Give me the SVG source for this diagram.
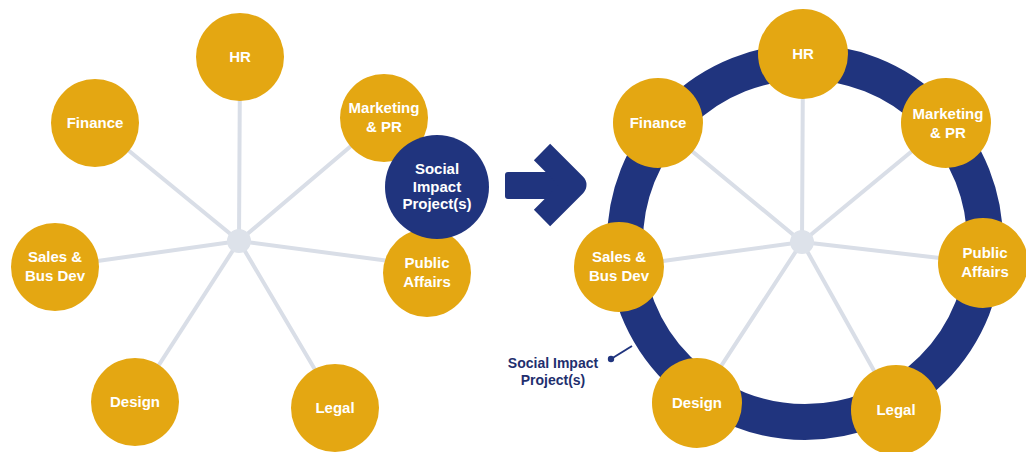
<svg xmlns="http://www.w3.org/2000/svg" width="1026" height="452" viewBox="0 0 1026 452">
  <style>
    .spoke { stroke: #d9dee7; stroke-width: 4; stroke-linecap: round; fill: none; }
    .hub { fill: #dde2ea; }
    .dept { fill: #e4a712; }
    .sip { fill: #20347e; }
    .lbl { font-family: "Liberation Sans", Arial, sans-serif; font-weight: bold; font-size: 15px; fill: #ffffff; text-anchor: middle; }
    .note { font-family: "Liberation Sans", Arial, sans-serif; font-weight: bold; font-size: 14px; fill: #1f2f6e; text-anchor: middle; }
  </style>
  <rect width="1026" height="452" fill="#ffffff"/>

  <!-- Left: departments radiating from a shared hub -->
  <g id="left-connectors">
    <line class="spoke" x1="239" y1="241" x2="240" y2="57"/>
    <line class="spoke" x1="239" y1="241" x2="95" y2="123"/>
    <line class="spoke" x1="239" y1="241" x2="384" y2="118"/>
    <line class="spoke" x1="239" y1="241" x2="427" y2="266"/>
    <line class="spoke" x1="239" y1="241" x2="55" y2="267"/>
    <line class="spoke" x1="239" y1="241" x2="135" y2="402"/>
    <line class="spoke" x1="239" y1="241" x2="330" y2="395"/>
    <circle class="hub" cx="239" cy="241" r="12"/>
  </g>

  <g id="l-hr">
    <circle class="dept" cx="240" cy="57" r="44"/>
    <text class="lbl" x="240" y="62">HR</text>
  </g>
  <g id="l-finance">
    <circle class="dept" cx="95" cy="123" r="44"/>
    <text class="lbl" x="95" y="128">Finance</text>
  </g>
  <g id="l-marketing">
    <circle class="dept" cx="384" cy="118" r="44"/>
    <text class="lbl" x="384" y="113">Marketing</text>
    <text class="lbl" x="384" y="132">&amp; PR</text>
  </g>
  <g id="l-public-affairs">
    <circle class="dept" cx="427" cy="273" r="44"/>
    <text class="lbl" x="427" y="268">Public</text>
    <text class="lbl" x="427" y="287">Affairs</text>
  </g>
  <g id="l-social-impact">
    <circle class="sip" cx="437" cy="187" r="52"/>
    <text class="lbl" x="437" y="174">Social</text>
    <text class="lbl" x="437" y="191.5">Impact</text>
    <text class="lbl" x="437" y="209">Project(s)</text>
  </g>
  <g id="l-sales">
    <circle class="dept" cx="55" cy="267" r="44"/>
    <text class="lbl" x="55" y="262">Sales &amp;</text>
    <text class="lbl" x="55" y="281">Bus Dev</text>
  </g>
  <g id="l-design">
    <circle class="dept" cx="135" cy="402" r="44"/>
    <text class="lbl" x="135" y="407">Design</text>
  </g>
  <g id="l-legal">
    <circle class="dept" cx="335" cy="408" r="44"/>
    <text class="lbl" x="335" y="413">Legal</text>
  </g>

  <!-- Transition arrow -->
  <g id="arrow">
    <rect x="505" y="172" width="64" height="27" rx="3" fill="#20347e"/>
    <polyline points="542,152 575,185 542,218" fill="none" stroke="#20347e" stroke-width="23" stroke-linejoin="round" stroke-linecap="butt"/>
  </g>

  <!-- Right: departments joined by the project ring -->
  <g id="right-connectors">
    <line class="spoke" x1="802" y1="242" x2="803" y2="54"/>
    <line class="spoke" x1="802" y1="242" x2="658" y2="123"/>
    <line class="spoke" x1="802" y1="242" x2="946" y2="123"/>
    <line class="spoke" x1="802" y1="242" x2="983" y2="263"/>
    <line class="spoke" x1="802" y1="242" x2="619" y2="267"/>
    <line class="spoke" x1="802" y1="242" x2="697" y2="403"/>
    <line class="spoke" x1="802" y1="242" x2="896" y2="410"/>
    <circle class="hub" cx="802" cy="242" r="12"/>
  </g>

  <g id="ring">
    <circle cx="805" cy="242" r="180" fill="none" stroke="#20347e" stroke-width="36"/>
  </g>

  <g id="ring-label">
    <line x1="611" y1="359" x2="632" y2="346" stroke="#20347e" stroke-width="2"/>
    <circle cx="611" cy="359" r="3.2" fill="#20347e"/>
    <text class="note" x="553" y="368">Social Impact</text>
    <text class="note" x="553" y="385">Project(s)</text>
  </g>

  <g id="r-hr">
    <circle class="dept" cx="803" cy="54" r="45"/>
    <text class="lbl" x="803" y="59">HR</text>
  </g>
  <g id="r-finance">
    <circle class="dept" cx="658" cy="123" r="45"/>
    <text class="lbl" x="658" y="128">Finance</text>
  </g>
  <g id="r-marketing">
    <circle class="dept" cx="946" cy="123" r="45"/>
    <text class="lbl" x="948" y="119">Marketing</text>
    <text class="lbl" x="948" y="138">&amp; PR</text>
  </g>
  <g id="r-public-affairs">
    <circle class="dept" cx="983" cy="263" r="45"/>
    <text class="lbl" x="985" y="258">Public</text>
    <text class="lbl" x="985" y="277">Affairs</text>
  </g>
  <g id="r-sales">
    <circle class="dept" cx="619" cy="267" r="45"/>
    <text class="lbl" x="619" y="262">Sales &amp;</text>
    <text class="lbl" x="619" y="281">Bus Dev</text>
  </g>
  <g id="r-design">
    <circle class="dept" cx="697" cy="403" r="45"/>
    <text class="lbl" x="697" y="408">Design</text>
  </g>
  <g id="r-legal">
    <circle class="dept" cx="896" cy="410" r="45"/>
    <text class="lbl" x="896" y="415">Legal</text>
  </g>
</svg>
